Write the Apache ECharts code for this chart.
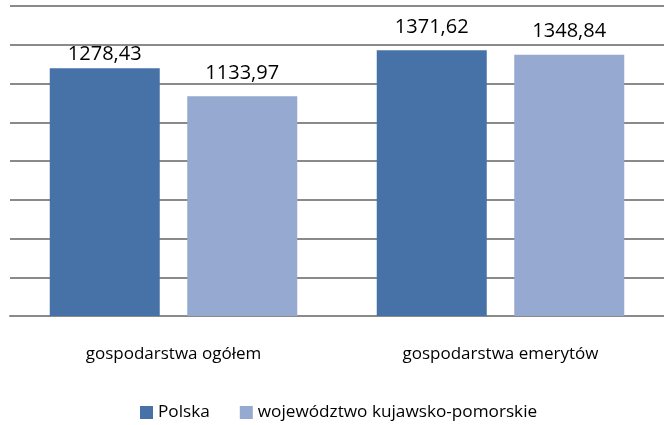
<!DOCTYPE html>
<html><head><meta charset="utf-8">
<script src="https://cdn.jsdelivr.net/npm/echarts@6/dist/echarts.min.js"></script>
<style>html,body{margin:0;padding:0;background:#fff}#c{width:664px;height:425px}</style>
</head><body><div id="c"></div>
<script>
const categories = ['gospodarstwa ogółem', 'gospodarstwa emerytów'];
const seriesNames = ['Polska', 'województwo kujawsko-pomorskie'];
const polska = [1278.43, 1371.62];
const kujawsko = [1133.97, 1348.84];
const yMax = 1600, yInterval = 200;

const FONT = 'Open Sans';
const fmt = v => v.toFixed(2).replace('.', ',');
const chart = echarts.init(document.getElementById('c'), null, {renderer: 'canvas'});
const barLabel = {show: true, position: 'top', distance: 13, color: '#000', fontFamily: FONT, fontSize: 20,
  formatter: p => fmt(p.value)};
// the first label in the source sits closer to its bar
const polskaData = polska.map((v, i) => i === 0 ? {value: v, label: {distance: 4}} : v);
chart.setOption({
  animation: false,
  textStyle: {fontFamily: FONT},
  legend: {
    data: seriesNames, left: 135, top: 399, itemWidth: 13, itemHeight: 13, itemGap: 30,
    icon: 'rect', textStyle: {fontFamily: FONT, fontSize: 17.2, color: '#000'}
  },
  grid: {left: 10, right: 0, top: 6, height: 310},
  xAxis: {
    type: 'category', data: categories,
    axisLine: {show: true, lineStyle: {color: '#8a8a8a', width: 2}},
    axisTick: {show: false},
    axisLabel: {margin: 30, color: '#000', fontFamily: FONT, fontSize: 17}
  },
  yAxis: {
    type: 'value', min: 0, max: yMax, interval: yInterval,
    axisLabel: {show: false}, axisTick: {show: false}, axisLine: {show: false},
    splitLine: {show: true, lineStyle: {color: '#8a8a8a', width: 2}}
  },
  series: [
    {name: seriesNames[0], type: 'bar', data: polskaData, barWidth: 110, barGap: '25%',
      itemStyle: {color: '#4672a7'}, label: barLabel, z: 3},
    {name: seriesNames[1], type: 'bar', data: kujawsko, barWidth: 110, barGap: '25%',
      itemStyle: {color: '#95a9d1'}, label: barLabel, z: 3}
  ]
});
</script></body></html>
